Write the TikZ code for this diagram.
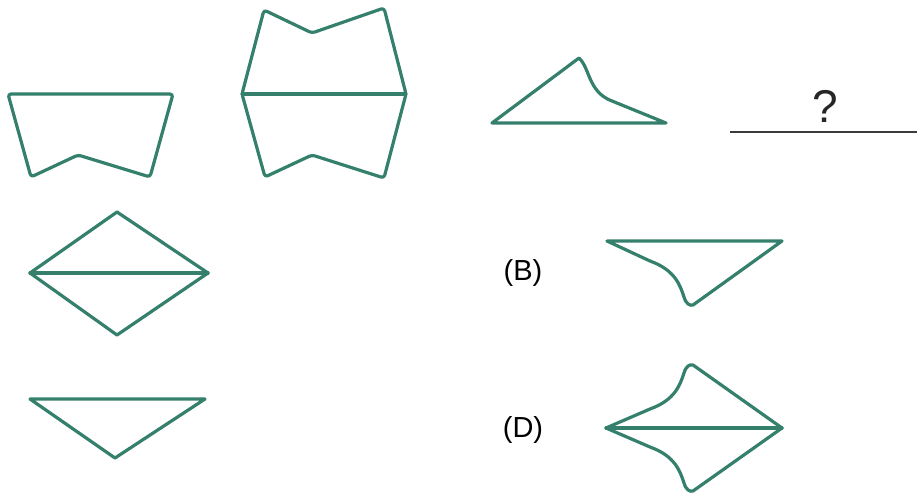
\documentclass[tikz,border=0pt]{standalone}
\usepackage{fontspec}
\setmainfont{Liberation Sans}
\usetikzlibrary{positioning}
\definecolor{figgreen}{RGB}{52,128,108}
\definecolor{rulegray}{RGB}{60,60,60}

\begin{document}
\begin{tikzpicture}[
  x=1pt, y=-1pt,
  fig/.style={draw=figgreen,line width=3.2pt,line join=round,line cap=round},
  rnd/.style={fig,rounded corners=3pt},
  lab/.style={inner sep=0pt,font=\fontsize{29}{32}\selectfont},
  qlab/.style={inner sep=0pt,text=black!85,font=\fontsize{46}{50}\selectfont},
  rule/.style={draw=rulegray,line width=2.4pt},
]
\useasboundingbox (0,0) rectangle (917,495);

% ---------- top row ----------
\draw[rnd] (8,94) -- (173,94) -- (150,177) -- (78,155) -- (31,177) -- cycle;

\draw[rnd] (242,94) -- (264,10) -- (312,33) -- (384,8) -- (406,94)
  -- (384,178) -- (312,155) -- (265,177) -- cycle;
\draw[fig] (242,94) -- (406,94);

\draw[fig] (492,123) -- (579,58)
  .. controls (590,68) and (588,92) .. (612,101) -- (666,123) -- cycle;

% ---------- question ----------
\coordinate (rl) at (730,132);
\coordinate (rr) at (917,132);
\draw[rule] (rl) -- (rr);
\node[qlab,anchor=south] (qmark) at (825,123) {?};

% ---------- left column ----------
\draw[fig] (30,273) -- (117,212) -- (208,273) -- (117,335) -- cycle;
\draw[fig] (30,273) -- (208,273);

\draw[fig] (30,399) -- (205,399) -- (115,458) -- cycle;

% ---------- options ----------
\node[lab] (optB) at (523,273) {(B)};
\draw[fig] (607,241) -- (650,261)
  .. controls (675,270) and (680,285) .. (684,297)
  .. controls (686,304) and (690,306) .. (693,305) -- (782,241) -- cycle;

\node[lab] (optD) at (523,430) {(D)};
\draw[fig] (606,428) -- (650,409)
  .. controls (675,400) and (680,385) .. (684,373)
  .. controls (686,366) and (690,364) .. (693,365) -- (782,428)
  -- (693,491)
  .. controls (690,492) and (686,490) .. (684,483)
  .. controls (680,471) and (675,456) .. (650,447) -- cycle;
\draw[fig] (606,428) -- (782,428);

\end{tikzpicture}
\end{document}
